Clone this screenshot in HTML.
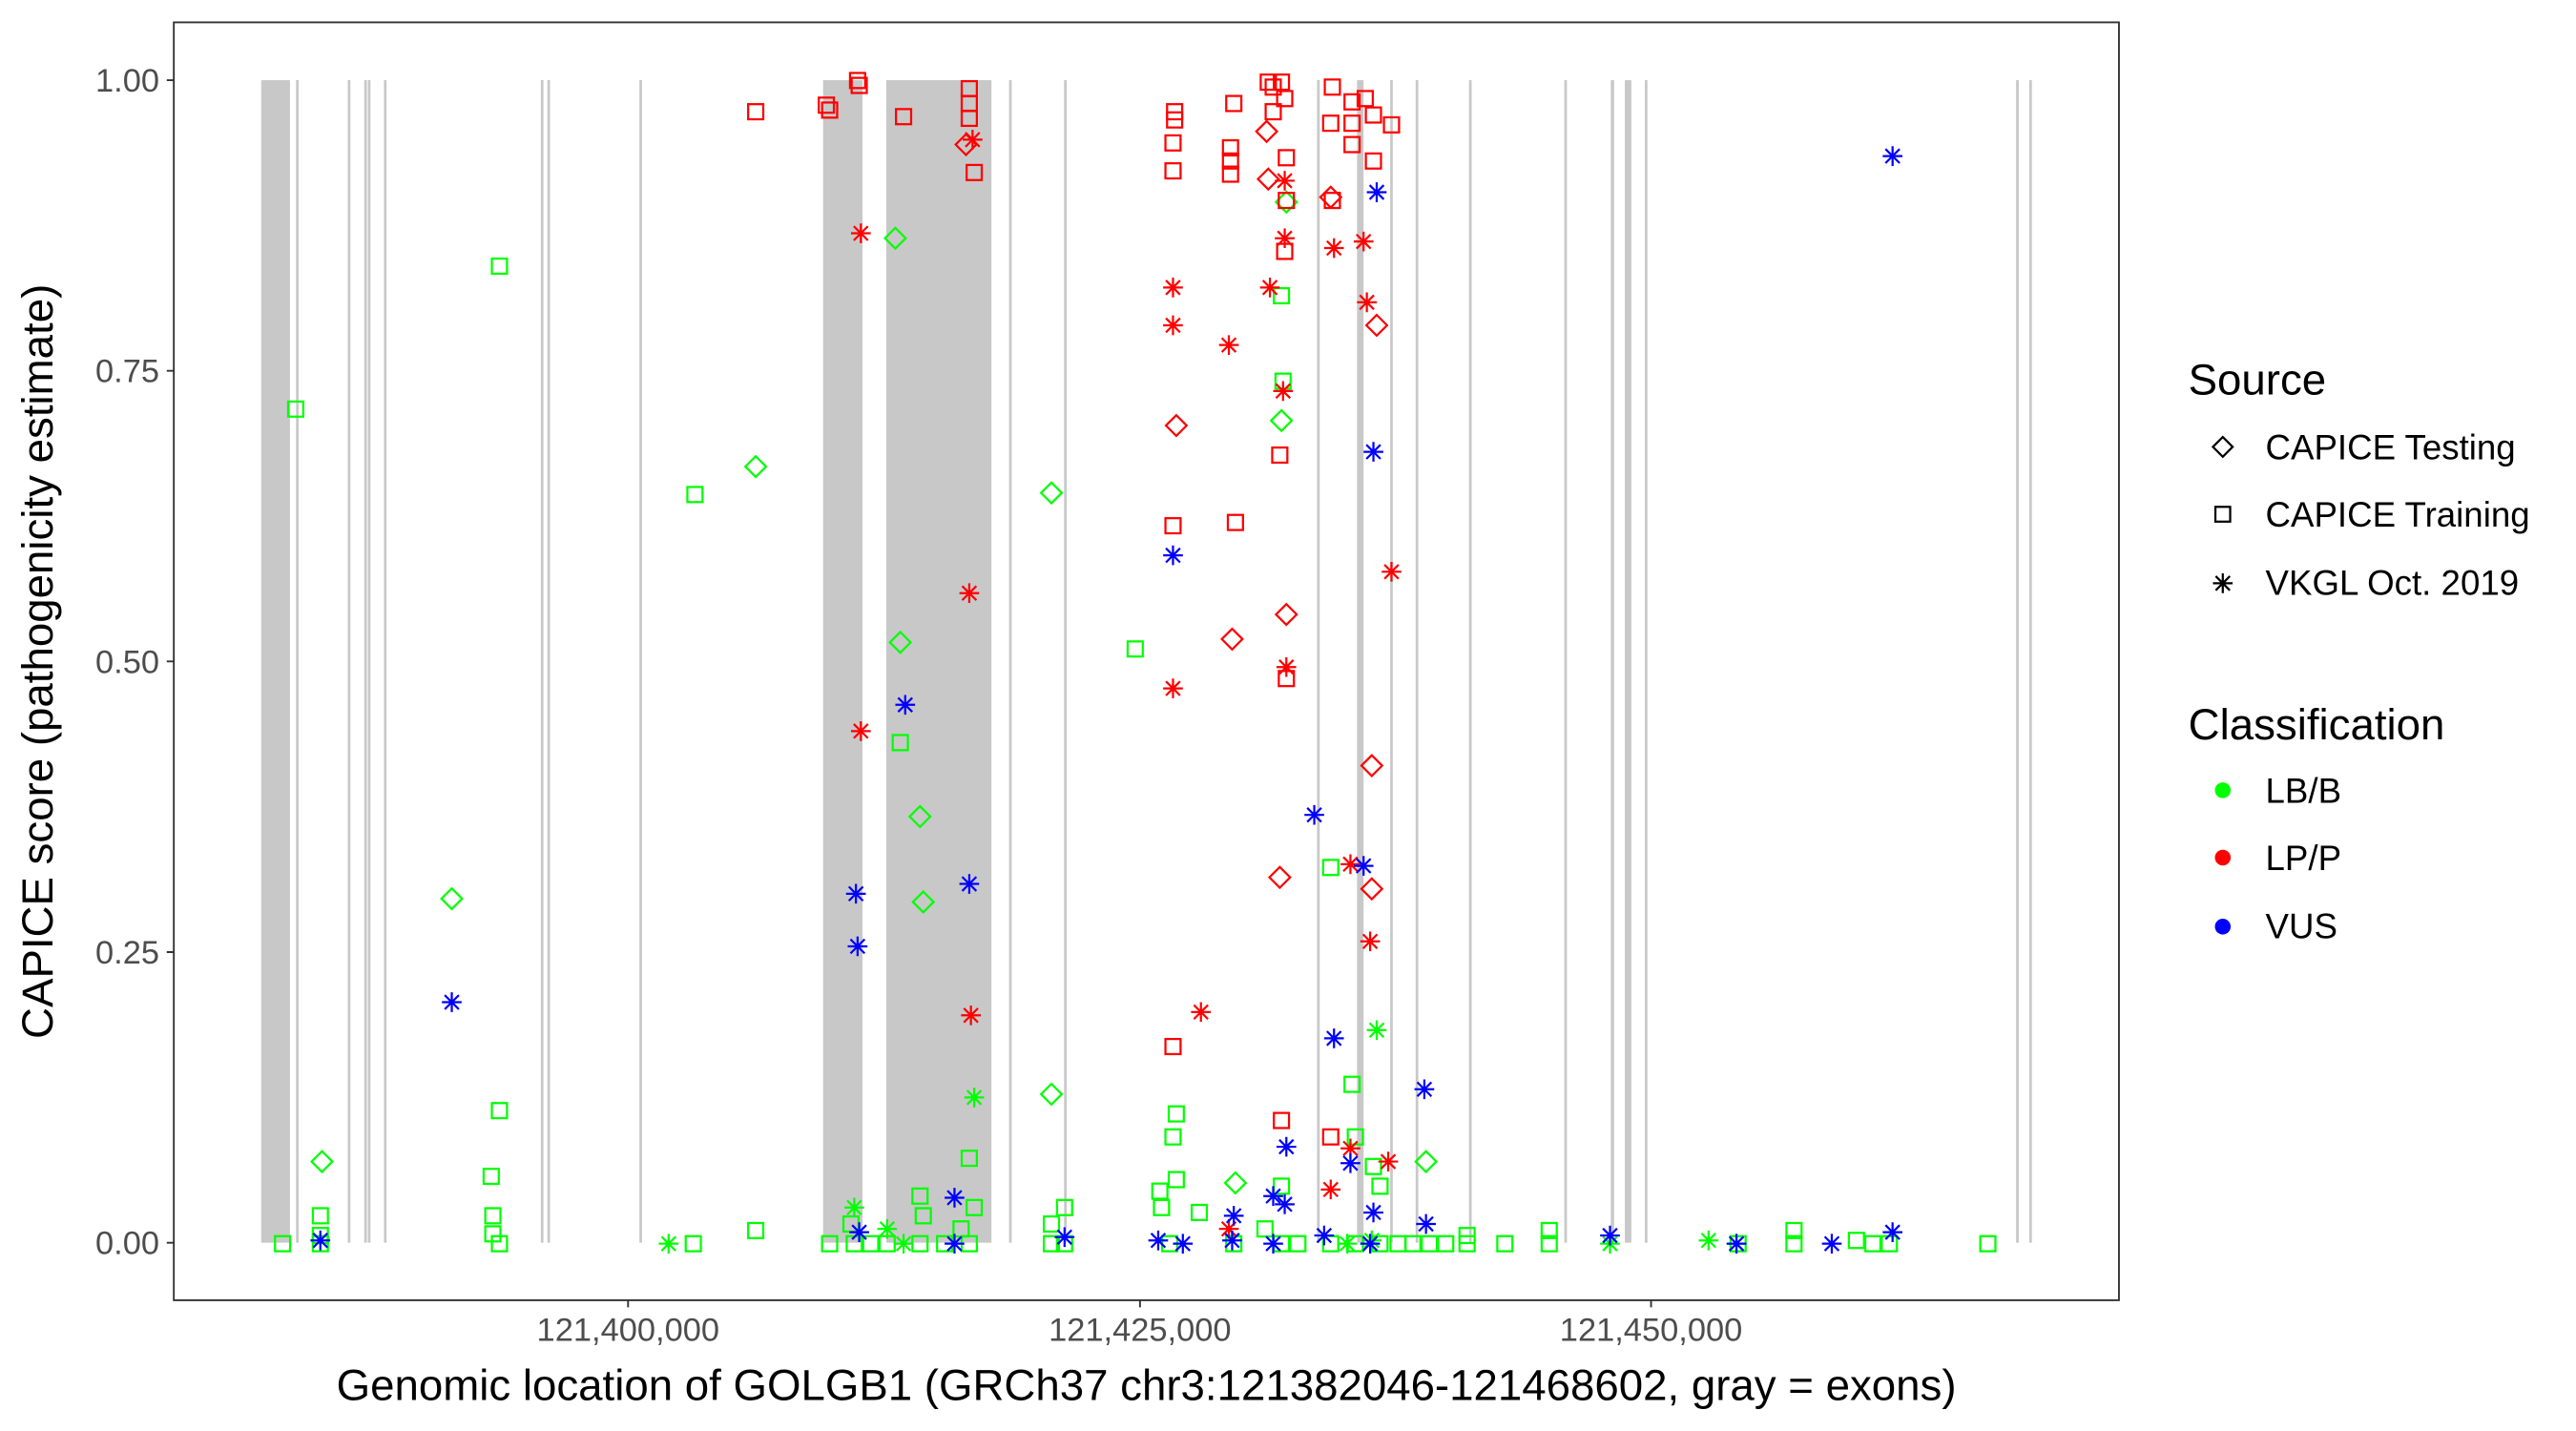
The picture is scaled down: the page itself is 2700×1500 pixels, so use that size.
<!DOCTYPE html>
<html><head><meta charset="utf-8"><style>html,body{margin:0;padding:0;background:#fff}svg{display:block}</style></head>
<body>
<svg width="2700" height="1500" viewBox="0 0 1568 871" preserveAspectRatio="none" xmlns="http://www.w3.org/2000/svg" font-family="Liberation Sans, Arial, sans-serif">
<defs>
<g id="sq"><rect x="-4.6" y="-4.6" width="9.2" height="9.2" fill="none" stroke="currentColor" stroke-width="1.3"/></g>
<g id="di"><path d="M0,-6.3 L6.3,0 L0,6.3 L-6.3,0 Z" fill="none" stroke="currentColor" stroke-width="1.3"/></g>
<g id="st"><path d="M-6,0 H6 M0,-6 V6 M-4.3,-4.3 L4.3,4.3 M-4.3,4.3 L4.3,-4.3" stroke="currentColor" stroke-width="1.3"/></g>
</defs>
<rect width="1568" height="871" fill="#fff"/>
<g fill="#c8c8c8">
<rect x="159" y="48.8" width="17.5" height="707.6"/>
<rect x="501" y="48.8" width="24" height="707.6"/>
<rect x="539.5" y="48.8" width="64" height="707.6"/>
<rect x="826" y="48.8" width="4" height="707.6"/>
<rect x="980.5" y="48.8" width="2" height="707.6"/>
<rect x="989" y="48.8" width="4" height="707.6"/>
</g>
<g stroke="#c8c8c8" stroke-width="1.6">
<path d="M181,48.8V756.4 M212.5,48.8V756.4 M222.5,48.8V756.4 M224.7,48.8V756.4 M234.5,48.8V756.4 M330,48.8V756.4 M334,48.8V756.4 M390,48.8V756.4 M615,48.8V756.4 M648.5,48.8V756.4 M802.5,48.8V756.4 M847,48.8V756.4 M862.5,48.8V756.4 M895,48.8V756.4 M953,48.8V756.4 M1002,48.8V756.4 M1228,48.8V756.4 M1236,48.8V756.4"/>
</g>
<g color="#00ff00">
<use href="#sq" x="172" y="757"/><use href="#sq" x="180" y="249"/><use href="#sq" x="195" y="740"/><use href="#sq" x="195" y="752"/><use href="#sq" x="195" y="757"/><use href="#sq" x="304" y="162"/><use href="#sq" x="304" y="676"/><use href="#sq" x="299" y="716"/><use href="#sq" x="300" y="740"/><use href="#sq" x="300" y="751"/><use href="#sq" x="304" y="757"/><use href="#sq" x="422" y="757"/><use href="#sq" x="423" y="301"/><use href="#sq" x="460" y="749"/><use href="#sq" x="505" y="757"/><use href="#sq" x="520" y="757"/><use href="#sq" x="518" y="745"/><use href="#sq" x="530" y="757"/><use href="#sq" x="540" y="757"/><use href="#sq" x="548" y="452"/><use href="#sq" x="560" y="728"/><use href="#sq" x="562" y="740"/><use href="#sq" x="560" y="757"/><use href="#sq" x="575" y="757"/><use href="#sq" x="590" y="705"/><use href="#sq" x="593" y="735"/><use href="#sq" x="590" y="757"/><use href="#sq" x="585" y="748"/><use href="#sq" x="640" y="745"/><use href="#sq" x="648" y="735"/><use href="#sq" x="648" y="757"/><use href="#sq" x="640" y="757"/><use href="#sq" x="691" y="395"/><use href="#sq" x="706" y="725"/><use href="#sq" x="707" y="735"/><use href="#sq" x="716" y="678"/><use href="#sq" x="714" y="692"/><use href="#sq" x="716" y="718"/><use href="#sq" x="730" y="738"/><use href="#sq" x="712" y="757"/><use href="#sq" x="751" y="757"/><use href="#sq" x="780" y="180"/><use href="#sq" x="781" y="232"/><use href="#sq" x="780" y="722"/><use href="#sq" x="780" y="757"/><use href="#sq" x="770" y="748"/><use href="#sq" x="790" y="757"/><use href="#sq" x="810" y="528"/><use href="#sq" x="823" y="660"/><use href="#sq" x="825" y="692"/><use href="#sq" x="836" y="710"/><use href="#sq" x="840" y="722"/><use href="#sq" x="810" y="757"/><use href="#sq" x="825" y="757"/><use href="#sq" x="840" y="757"/><use href="#sq" x="851" y="757"/><use href="#sq" x="860" y="757"/><use href="#sq" x="870" y="757"/><use href="#sq" x="880" y="757"/><use href="#sq" x="893" y="752"/><use href="#sq" x="893" y="757"/><use href="#sq" x="916" y="757"/><use href="#sq" x="943" y="757"/><use href="#sq" x="943" y="749"/><use href="#sq" x="1058" y="757"/><use href="#sq" x="1092" y="757"/><use href="#sq" x="1092" y="749"/><use href="#sq" x="1130" y="755"/><use href="#sq" x="1140" y="757"/><use href="#sq" x="1150" y="757"/><use href="#sq" x="1210" y="757"/>
<use href="#di" x="196" y="707"/><use href="#di" x="275" y="547"/><use href="#di" x="460" y="284"/><use href="#di" x="545" y="145"/><use href="#di" x="548" y="391"/><use href="#di" x="560" y="497"/><use href="#di" x="562" y="549"/><use href="#di" x="640" y="300"/><use href="#di" x="640" y="666"/><use href="#di" x="752" y="720"/><use href="#di" x="780" y="256"/><use href="#di" x="783" y="123"/><use href="#di" x="868" y="707"/>
<use href="#st" x="407" y="757"/><use href="#st" x="520" y="735"/><use href="#st" x="540" y="748"/><use href="#st" x="550" y="757"/><use href="#st" x="593" y="668"/><use href="#st" x="838" y="627"/><use href="#st" x="1040" y="755"/><use href="#st" x="1057" y="757"/><use href="#st" x="980" y="757"/><use href="#st" x="820" y="757"/><use href="#st" x="835" y="755"/>
</g>
<g color="#ff0000">
<use href="#sq" x="460" y="68"/><use href="#sq" x="503" y="64"/><use href="#sq" x="505" y="67"/><use href="#sq" x="523" y="52"/><use href="#sq" x="522" y="49"/><use href="#sq" x="550" y="71"/><use href="#sq" x="590" y="54"/><use href="#sq" x="590" y="63"/><use href="#sq" x="590" y="72"/><use href="#sq" x="593" y="105"/><use href="#sq" x="715" y="68"/><use href="#sq" x="715" y="73"/><use href="#sq" x="714" y="87"/><use href="#sq" x="714" y="104"/><use href="#sq" x="751" y="63"/><use href="#sq" x="749" y="90"/><use href="#sq" x="749" y="98"/><use href="#sq" x="749" y="106"/><use href="#sq" x="752" y="318"/><use href="#sq" x="714" y="320"/><use href="#sq" x="714" y="637"/><use href="#sq" x="772" y="50"/><use href="#sq" x="775" y="53"/><use href="#sq" x="782" y="60"/><use href="#sq" x="775" y="68"/><use href="#sq" x="780" y="50"/><use href="#sq" x="783" y="96"/><use href="#sq" x="783" y="122"/><use href="#sq" x="782" y="153"/><use href="#sq" x="779" y="277"/><use href="#sq" x="783" y="413"/><use href="#sq" x="811" y="53"/><use href="#sq" x="810" y="75"/><use href="#sq" x="811" y="122"/><use href="#sq" x="823" y="62"/><use href="#sq" x="823" y="88"/><use href="#sq" x="823" y="75"/><use href="#sq" x="831" y="60"/><use href="#sq" x="836" y="70"/><use href="#sq" x="836" y="98"/><use href="#sq" x="847" y="76"/><use href="#sq" x="780" y="682"/><use href="#sq" x="810" y="692"/>
<use href="#di" x="588" y="88"/><use href="#di" x="771" y="80"/><use href="#di" x="772" y="109"/><use href="#di" x="783" y="374"/><use href="#di" x="779" y="534"/><use href="#di" x="750" y="389"/><use href="#di" x="716" y="259"/><use href="#di" x="810" y="120"/><use href="#di" x="838" y="198"/><use href="#di" x="835" y="466"/><use href="#di" x="835" y="541"/>
<use href="#st" x="524" y="142"/><use href="#st" x="524" y="445"/><use href="#st" x="590" y="361"/><use href="#st" x="591" y="618"/><use href="#st" x="592" y="85"/><use href="#st" x="714" y="175"/><use href="#st" x="714" y="198"/><use href="#st" x="714" y="419"/><use href="#st" x="731" y="616"/><use href="#st" x="748" y="210"/><use href="#st" x="773" y="175"/><use href="#st" x="781" y="238"/><use href="#st" x="783" y="406"/><use href="#st" x="782" y="145"/><use href="#st" x="782" y="110"/><use href="#st" x="812" y="151"/><use href="#st" x="830" y="147"/><use href="#st" x="832" y="184"/><use href="#st" x="834" y="573"/><use href="#st" x="847" y="348"/><use href="#st" x="822" y="526"/><use href="#st" x="810" y="724"/><use href="#st" x="822" y="699"/><use href="#st" x="845" y="707"/><use href="#st" x="748" y="748"/>
</g>
<g color="#0000ff">
<use href="#st" x="195" y="755"/><use href="#st" x="275" y="610"/><use href="#st" x="521" y="544"/><use href="#st" x="522" y="576"/><use href="#st" x="551" y="429"/><use href="#st" x="590" y="538"/><use href="#st" x="581" y="729"/><use href="#st" x="581" y="757"/><use href="#st" x="523" y="750"/><use href="#st" x="648" y="753"/><use href="#st" x="705" y="755"/><use href="#st" x="720" y="757"/><use href="#st" x="714" y="338"/><use href="#st" x="751" y="740"/><use href="#st" x="750" y="755"/><use href="#st" x="775" y="728"/><use href="#st" x="775" y="757"/><use href="#st" x="782" y="733"/><use href="#st" x="783" y="698"/><use href="#st" x="800" y="496"/><use href="#st" x="812" y="632"/><use href="#st" x="806" y="752"/><use href="#st" x="830" y="527"/><use href="#st" x="836" y="275"/><use href="#st" x="838" y="117"/><use href="#st" x="867" y="663"/><use href="#st" x="868" y="745"/><use href="#st" x="1057" y="757"/><use href="#st" x="1115" y="757"/><use href="#st" x="1152" y="750"/><use href="#st" x="1152" y="95"/><use href="#st" x="980" y="752"/><use href="#st" x="836" y="738"/><use href="#st" x="822" y="708"/><use href="#st" x="834" y="757"/>
</g>
<rect x="105.8" y="13.6" width="1184" height="777.8" fill="none" stroke="#333" stroke-width="1.1"/>
<g stroke="#333" stroke-width="1.1">
<path d="M101.5,48.8H105.8 M101.5,225.7H105.8 M101.5,402.6H105.8 M101.5,579.5H105.8 M101.5,756.4H105.8"/>
<path d="M382.3,791.4V795.7 M693.9,791.4V795.7 M1005,791.4V795.7"/>
</g>
<g font-size="20" fill="#4d4d4d" text-anchor="end">
<text x="97" y="55.8">1.00</text><text x="97" y="232.7">0.75</text><text x="97" y="409.6">0.50</text><text x="97" y="586.5">0.25</text><text x="97" y="763.4">0.00</text>
</g>
<g font-size="20" fill="#4d4d4d" text-anchor="middle">
<text x="382.3" y="816">121,400,000</text><text x="693.9" y="816">121,425,000</text><text x="1005" y="816">121,450,000</text>
</g>
<text x="697.8" y="852" font-size="26.5" text-anchor="middle" fill="#000">Genomic location of GOLGB1 (GRCh37 chr3:121382046-121468602, gray = exons)</text>
<text transform="translate(32,402.6) rotate(-90)" font-size="26.5" text-anchor="middle" fill="#000">CAPICE score (pathogenicity estimate)</text>
<text x="1332" y="240" font-size="26.5" fill="#000">Source</text>
<path d="M1353,266 L1359,272 L1353,278 L1347,272 Z" fill="none" stroke="#000" stroke-width="1.3"/>
<rect x="1348.5" y="308.5" width="9" height="9" fill="none" stroke="#000" stroke-width="1.3"/>
<g color="#000"><use href="#st" x="1353" y="355"/></g>
<g font-size="21.3" fill="#000">
<text x="1379" y="279.5">CAPICE Testing</text><text x="1379" y="320.5">CAPICE Training</text><text x="1379" y="362">VKGL Oct. 2019</text>
</g>
<text x="1332" y="450" font-size="26.5" fill="#000">Classification</text>
<circle cx="1353" cy="481" r="4.8" fill="#00ff00"/><circle cx="1353" cy="522" r="4.8" fill="#ff0000"/><circle cx="1353" cy="564" r="4.8" fill="#0000ff"/>
<g font-size="21.3" fill="#000">
<text x="1379" y="488.5">LB/B</text><text x="1379" y="529.5">LP/P</text><text x="1379" y="571">VUS</text>
</g>
</svg>
</body></html>
